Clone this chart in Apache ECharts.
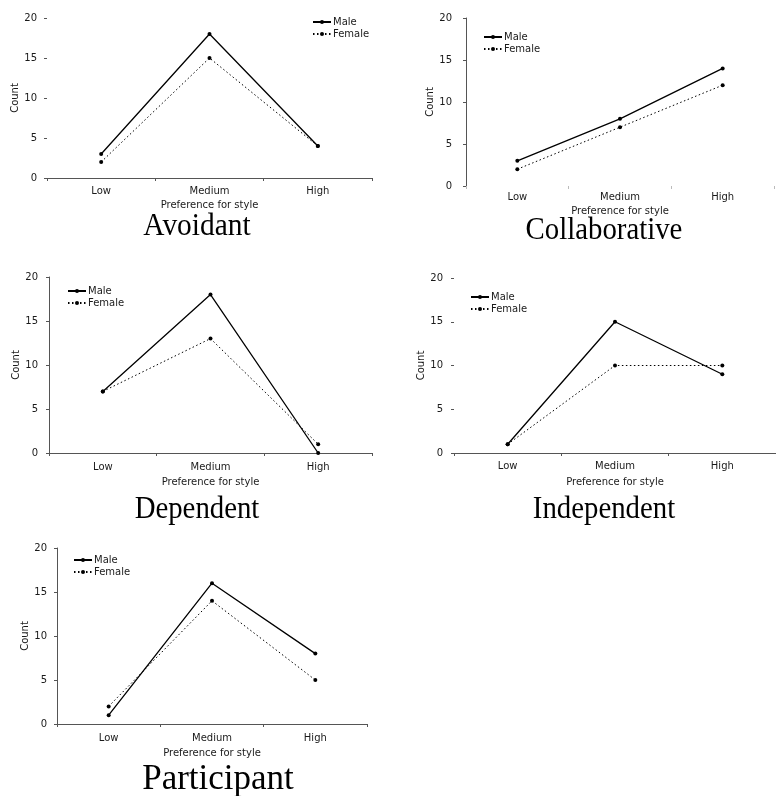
<!DOCTYPE html>
<html><head><meta charset="utf-8">
<script src="https://cdn.jsdelivr.net/npm/echarts@6/dist/echarts.min.js"></script>
<style>html,body{margin:0;padding:0;background:#fff}#c{width:776px;height:796px}</style>
</head><body><div id="c"></div>
<script>
// ---- data ----
const categories = ['Low', 'Medium', 'High'];
const yTickLabels = ['0', '5', '10', '15', '20'];
const panelTitles = ['Avoidant', 'Collaborative', 'Dependent', 'Independent', 'Participant'];
const seriesNames = ['Male', 'Female'];
const avoidantMale = [3, 18, 4];
const avoidantFemale = [2, 15, 4];
const collaborativeMale = [3, 8, 14];
const collaborativeFemale = [2, 7, 12];
const dependentMale = [7, 18, 0];
const dependentFemale = [7, 13, 1];
const independentMale = [1, 15, 9];
const independentFemale = [1, 10, 10];
const participantMale = [1, 16, 8];
const participantFemale = [2, 14, 5];

const panelData = [
  [avoidantMale, avoidantFemale],
  [collaborativeMale, collaborativeFemale],
  [dependentMale, dependentFemale],
  [independentMale, independentFemale],
  [participantMale, participantFemale]
];

// ---- layout ----
const layout = [
  {left: 47, top: 18, width: 325, height: 160, yLine: false, xLine: true, yMargin: 10, xMargin: 8, xGap: 22,
   legend: {left: 312, top: 17}, title: {x: 197, y: 227, size: 32, sx: 0.92}},
  {left: 466, top: 18, width: 308, height: 168, yLine: true, xLine: false, yMargin: 14, xMargin: 6, xGap: 20,
   legend: {left: 483, top: 32}, title: {x: 604, y: 231, size: 32, sx: 0.9}},
  {left: 49, top: 277, width: 323, height: 176, yLine: true, xLine: true, yMargin: 11, xMargin: 9, xGap: 24,
   legend: {left: 67, top: 286}, title: {x: 197, y: 510, size: 32, sx: 0.9}},
  {left: 454, top: 278, width: 330, height: 175, yLine: false, xLine: true, yMargin: 11, xMargin: 8, xGap: 24,
   legend: {left: 470, top: 292}, title: {x: 604, y: 510, size: 32, sx: 0.9}},
  {left: 57, top: 548, width: 310, height: 176, yLine: true, xLine: true, yMargin: 10, xMargin: 9, xGap: 24,
   legend: {left: 73, top: 555}, title: {x: 218, y: 780, size: 35, sx: 1.0}}
];

const smallFont = {fontFamily: 'DejaVu Sans', fontSize: 10, color: '#1a1a1a'};
const axisColor = '#555';

const grid = [], xAxis = [], yAxis = [], series = [], legend = [], graphic = [];
layout.forEach((L, i) => {
  grid.push({left: L.left, top: L.top, width: L.width, height: L.height, containLabel: false});
  xAxis.push({
    type: 'category', gridIndex: i, data: categories, boundaryGap: true,
    name: 'Preference for style', nameLocation: 'middle', nameGap: L.xGap,
    nameTextStyle: Object.assign({}, smallFont),
    axisLine: {show: L.xLine, lineStyle: {color: axisColor, width: 1}},
    axisTick: {show: true, length: 3, alignWithLabel: false, interval: 0,
      lineStyle: {color: L.xLine ? axisColor : '#bbb'}},
    axisLabel: Object.assign({margin: L.xMargin, interval: 0}, smallFont),
    splitLine: {show: false}
  });
  yAxis.push({
    type: 'value', gridIndex: i, min: 0, max: 20, interval: 5,
    name: 'Count', nameLocation: 'middle', nameGap: 25,
    nameTextStyle: Object.assign({}, smallFont),
    axisLine: {show: L.yLine, lineStyle: {color: axisColor, width: 1}},
    axisTick: {show: true, length: 3, lineStyle: {color: axisColor}},
    axisLabel: Object.assign({margin: L.yMargin,
      formatter: v => yTickLabels[Math.round(v / 5)]}, smallFont),
    splitLine: {show: false}
  });
  const d = panelData[i];
  series.push({
    name: seriesNames[0], type: 'line', xAxisIndex: i, yAxisIndex: i, data: d[0],
    symbol: 'circle', symbolSize: 4, showSymbol: true,
    lineStyle: {color: '#000', width: 1.3, type: 'solid'},
    itemStyle: {color: '#000'}, animation: false, z: 3
  });
  series.push({
    name: seriesNames[1], type: 'line', xAxisIndex: i, yAxisIndex: i, data: d[1],
    symbol: 'circle', symbolSize: 4, showSymbol: true,
    lineStyle: {color: '#000', width: 1, type: [1.5, 2.5]},
    itemStyle: {color: '#000'}, animation: false, z: 2
  });
  legend.push({
    data: seriesNames, orient: 'vertical', left: L.legend.left, top: L.legend.top,
    itemWidth: 18, itemHeight: 5, itemGap: 2, padding: 0, selectedMode: false,
    textStyle: Object.assign({padding: [0, 0, 0, -3]}, smallFont)
  });
  graphic.push({
    type: 'text', x: L.title.x, y: L.title.y, scaleX: L.title.sx, scaleY: 1,
    style: {text: panelTitles[i], font: L.title.size + 'px "Liberation Serif"', fill: '#000',
      align: 'center', verticalAlign: 'middle', textAlign: 'center', textVerticalAlign: 'middle'}
  });
});

const chart = echarts.init(document.getElementById('c'), null, {renderer: 'canvas'});
chart.setOption({
  backgroundColor: '#fff', animation: false,
  grid, xAxis, yAxis, series, legend, graphic
});
</script>
</body></html>
